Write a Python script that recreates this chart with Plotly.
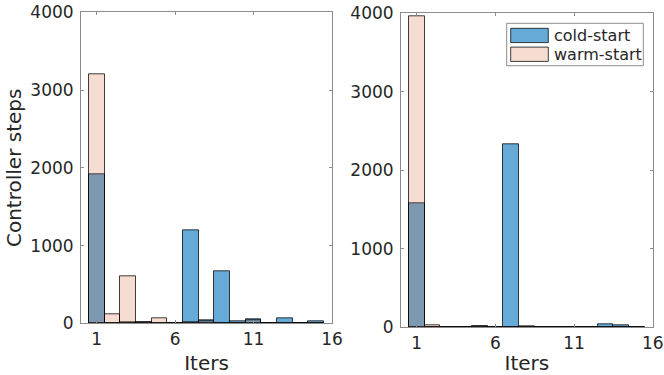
import plotly.graph_objects as go

# ---- data ----
iters = list(range(1, 16))
left_cold = [1920, 0, 18, 15, 0, 0, 1200, 42, 663, 28, 50, 4, 62, 0, 28]
left_warm = [3200, 115, 610, 10, 65, 0, 10, 30, 0, 0, 45, 0, 0, 0, 0]
right_cold = [1575, 0, 5, 2, 17, 4, 2330, 6, 0, 0, 0, 0, 38, 21, 0]
right_warm = [3965, 30, 3, 0, 10, 0, 0, 10, 0, 0, 0, 0, 0, 0, 0]
xticks = [1, 6, 11, 16]
yticks = [0, 1000, 2000, 3000, 4000]
series_names = ["cold-start", "warm-start"]

COLD = "rgba(0,114,189,0.6)"
WARM = "rgba(217,83,25,0.2)"
EDGE = "rgba(0,0,0,0.75)"
FONT = "DejaVu Sans"
TXT = "#262626"
AX = "#8c8c8c"
W, H = 664, 375

fig = go.Figure()
for xa, ya, c, w in [("x", "y", left_cold, left_warm), ("x2", "y2", right_cold, right_warm)]:
    fig.add_trace(go.Bar(x=iters, y=c, width=1, name=series_names[0], xaxis=xa, yaxis=ya,
                         marker=dict(color=COLD, line=dict(color=EDGE, width=1)),
                         showlegend=False))
    fig.add_trace(go.Bar(x=iters, y=w, width=1, name=series_names[1], xaxis=xa, yaxis=ya,
                         marker=dict(color=WARM, line=dict(color=EDGE, width=1)),
                         showlegend=False))

axcommon = dict(showline=True, linecolor=AX, linewidth=1, mirror="ticks", ticks="inside",
                ticklen=3, tickcolor=AX, showgrid=False, zeroline=False, automargin=False,
                tickfont=dict(family=FONT, size=17, color=TXT))
titlefont = dict(size=20, family=FONT, color=TXT)

fig.update_layout(
    width=W, height=H, margin=dict(l=0, r=0, t=0, b=0),
    paper_bgcolor="white", plot_bgcolor="white", barmode="overlay", bargap=0,
    font=dict(family=FONT, color=TXT), showlegend=False,
    xaxis=dict(domain=[81/W, 332/W], range=[0, 16], tickvals=xticks, anchor="y",
               title=dict(text="Iters", font=titlefont, standoff=8), **axcommon),
    yaxis=dict(domain=[1-323.3/H, 1-12.3/H], range=[0, 4000], tickvals=yticks, anchor="x",
               ticklabelstandoff=3,
               title=dict(text="Controller steps", font=titlefont, standoff=3), **axcommon),
    xaxis2=dict(domain=[401/W, 652.7/W], range=[0, 16], tickvals=xticks, anchor="y2",
                title=dict(text="Iters", font=titlefont, standoff=8), **axcommon),
    yaxis2=dict(domain=[1-327.3/H, 1-13.3/H], range=[0, 4000], tickvals=yticks, anchor="x2",
                ticklabelstandoff=3, **axcommon),
)

# MATLAB-style legend box (drawn in paper coordinates)
def px(x):
    return x / W

def py(y):
    return 1 - y / H

fig.add_shape(type="rect", xref="paper", yref="paper", x0=px(506.7), x1=px(643.3),
              y0=py(65.7), y1=py(23.3), line=dict(color=AX, width=1), fillcolor="white", layer="above")
for i, (name, col) in enumerate(zip(series_names, [COLD, WARM])):
    top = 28.3 + i * 18.8
    fig.add_shape(type="rect", xref="paper", yref="paper", x0=px(510.7), x1=px(548.3),
                  y0=py(top + 14.3), y1=py(top), line=dict(color=EDGE, width=1), fillcolor=col,
                  layer="above")
    fig.add_annotation(xref="paper", yref="paper", x=px(551.5), y=py(top + 7.2), text=name,
                       showarrow=False, xanchor="left", yanchor="middle",
                       font=dict(family=FONT, size=16, color=TXT))

fig.write_html("out.html", config={"displayModeBar": False},
               post_script="document.body.style.margin='0px';")
